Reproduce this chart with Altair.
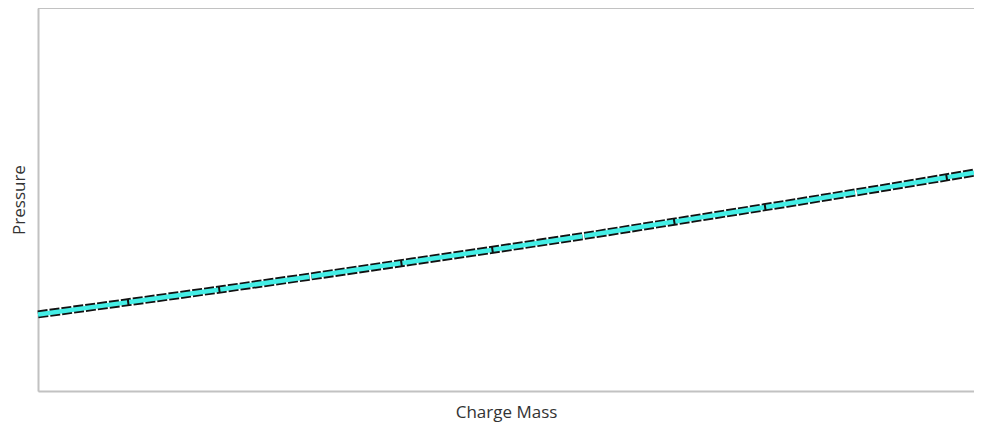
import altair as alt
import pandas as pd

charge_mass = [0.0, 0.1, 0.2, 0.3, 0.4, 0.5, 0.6, 0.7, 0.8, 0.9, 1.0]
pressure = [20.0, 23.3, 26.7, 30.2, 33.8, 37.4, 41.1, 45.0, 48.9, 52.9, 57.0]

df = pd.DataFrame({"Charge Mass": charge_mass, "Pressure": pressure})

W, H = 936, 383
FONT = "Open Sans"
BORDER = "#c2c2c2"

x = alt.X("Charge Mass:Q", scale=alt.Scale(domain=[0, 1], nice=False, zero=False),
          axis=alt.Axis(title="Charge Mass", ticks=False, labels=False, grid=False,
                        domainColor=BORDER, domainWidth=2, titleFont=FONT, titleFontSize=17,
                        titleFontWeight="normal", titleColor="#333333", titlePadding=13))
y = alt.Y("Pressure:Q", scale=alt.Scale(domain=[0, 100], nice=False, zero=False),
          axis=alt.Axis(title="Pressure", ticks=False, labels=False, grid=False,
                        domainColor=BORDER, domainWidth=2, titleFont=FONT, titleFontSize=17,
                        titleFontWeight="normal", titleColor="#333333", titlePadding=10))

base = alt.Chart(df)
outline = base.mark_line(color="#111111", strokeWidth=8, strokeDash=[10, 2]).encode(x=x, y=y)
inner = base.mark_line(color="#44EEE6", strokeWidth=4.5, strokeDash=[90, 2]).encode(x=x, y=y)
top = alt.Chart(df).mark_rule(color=BORDER, strokeWidth=2).encode(
    x=alt.value(0), x2=alt.value(W), y=alt.value(0))

chart = alt.layer(outline, inner, top).properties(
    width=W, height=H,
    autosize=alt.AutoSizeParams(type="none"),
    padding={"left": 30, "top": 0, "right": 0, "bottom": 40},
).configure_view(stroke=None).configure(background="white")

chart.save("out.html", embed_options={"renderer": "svg", "actions": False})
